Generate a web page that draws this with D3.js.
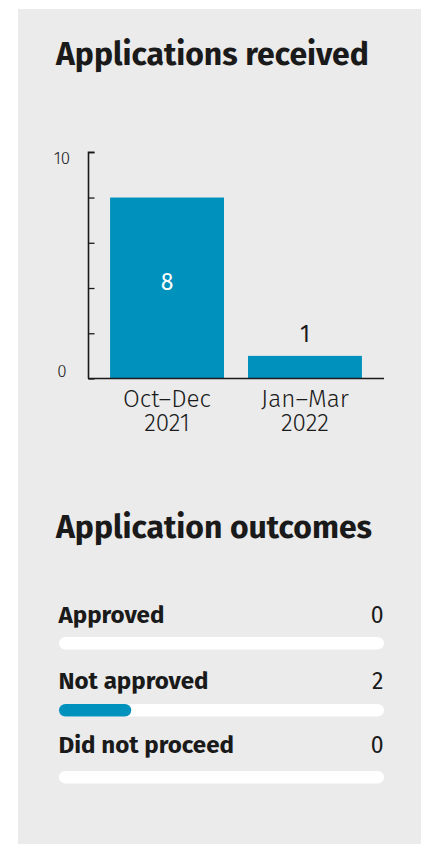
<!DOCTYPE html>
<html>
<head>
<meta charset="utf-8">
<script src="https://cdn.jsdelivr.net/npm/d3@7"></script>
<style>
  html, body { margin: 0; padding: 0; background: #ffffff; }
  svg { display: block; }
  text { font-family: "Fira Sans", Roboto, "Noto Sans", sans-serif; fill: #1a1a1a; }
</style>
</head>
<body>
<svg id="chart" width="427" height="844"></svg>
<script>
// ---- data ----
const titleTop = "Applications received";
const titleBottom = "Application outcomes";
const periods = ["Oct–Dec 2021", "Jan–Mar 2022"];
const applications = [8, 1];
const yTicks = [0, 2, 4, 6, 8, 10];
const yTickLabels = ["0", "", "", "", "", "10"];
const outcomeLabels = ["Approved", "Not approved", "Did not proceed"];
const outcomeValues = [0, 2, 0];

// ---- styles ----
const BLUE = "#0091bc";
const PANEL = "#ebebeb";

const svg = d3.select("#chart");
svg.append("rect").attr("x", 18).attr("y", 9).attr("width", 403).attr("height", 835).attr("fill", PANEL);

function fitWidth(sel, target, start) {
  let fs = start;
  sel.style("font-size", fs + "px");
  const w = sel.node().getComputedTextLength();
  fs = fs * target / w;
  sel.style("font-size", fs + "px");
  return fs;
}

// ---- titles ----
const t1 = svg.append("text").attr("x", 56).attr("y", 65).attr("font-weight", 700).text(titleTop);
fitWidth(t1, 313, 30);
const t2 = svg.append("text").attr("x", 56).attr("y", 538).attr("font-weight", 700).text(titleBottom);
fitWidth(t2, 316, 30);

// ---- bar chart ----
const y = d3.scaleLinear().domain([0, 10]).range([378.5, 152.3]);
const x = d3.scaleBand().domain(periods).range([88, 384]).paddingInner(0.174).paddingOuter(0.16);

svg.selectAll("rect.bar").data(periods).join("rect")
  .attr("class", "bar")
  .attr("x", d => x(d))
  .attr("width", x.bandwidth())
  .attr("y", (d, i) => y(applications[i]))
  .attr("height", (d, i) => y(0) - y(applications[i]))
  .attr("fill", BLUE);

// y axis (ticks pointing inward)
const yAxis = svg.append("g").attr("transform", "translate(88.5,0)")
  .call(d3.axisRight(y).tickValues(yTicks).tickSize(6).tickFormat(""));
yAxis.select(".domain").attr("d", `M6,${y(10)}H0V${y(0)}`).attr("stroke", "#1a1a1a").attr("stroke-width", 1.6);
yAxis.selectAll(".tick line").attr("stroke", "#1a1a1a").attr("stroke-width", 1.3);

// x axis baseline
const xAxis = svg.append("g").attr("transform", `translate(0,${y(0)})`)
  .call(d3.axisBottom(x).tickSize(0).tickFormat(""));
xAxis.select(".domain").attr("d", `M88,0H384`).attr("stroke", "#1a1a1a").attr("stroke-width", 1.6);

// y tick labels (0 sits above the baseline, 10 hangs below the top tick)
yTicks.forEach((v, i) => {
  if (!yTickLabels[i]) return;
  svg.append("text")
    .attr("x", 62).attr("y", v === 0 ? y(v) - 1.5 : y(v) + 11.5)
    .attr("text-anchor", "middle")
    .style("font-size", "17px").style("font-weight", 300)
    .text(yTickLabels[i]);
});

// category labels (two lines)
let catSize = null;
periods.forEach(p => {
  const parts = p.split(" ");
  const cx = x(p) + x.bandwidth() / 2;
  const a = svg.append("text").attr("text-anchor", "middle").attr("x", cx).attr("y", 407)
    .style("font-weight", 300).text(parts[0]);
  if (catSize === null) catSize = fitWidth(a, 88, 22);
  else a.style("font-size", catSize + "px");
  svg.append("text").attr("text-anchor", "middle").attr("x", cx).attr("y", 430.5)
    .style("font-weight", 300).style("font-size", catSize + "px").text(parts[1]);
});

// value labels
periods.forEach((p, i) => {
  const v = applications[i];
  const cx = x(p) + x.bandwidth() / 2;
  const inside = (y(0) - y(v)) > 40;
  svg.append("text")
    .attr("x", cx)
    .attr("y", inside ? (y(v) + y(0)) / 2 + 2 : y(v) - 14)
    .attr("text-anchor", "middle")
    .style("font-size", "23px").style("font-weight", 400)
    .style("fill", inside ? "#ffffff" : "#1a1a1a")
    .text(v);
});

// ---- outcomes ----
const total = d3.sum(applications);
const ox = d3.scaleLinear().domain([0, total]).range([59, 384]);
const rowLabelY = [623, 689, 753];
const rowTrackY = [637, 704, 771];
const trackH = 12.5;

let labelSize = null;
outcomeLabels.forEach((lab, i) => {
  const t = svg.append("text").attr("x", 58.5).attr("y", rowLabelY[i]).attr("font-weight", 700).text(lab);
  if (labelSize === null) labelSize = fitWidth(t, 106, 22);
  else t.style("font-size", labelSize + "px");
  svg.append("text").attr("x", 383.5).attr("y", rowLabelY[i]).attr("text-anchor", "end")
    .style("font-size", "23px").style("font-weight", 400).text(outcomeValues[i]);
  svg.append("rect").attr("x", ox(0)).attr("y", rowTrackY[i])
    .attr("width", ox(total) - ox(0)).attr("height", trackH)
    .attr("rx", trackH / 2).attr("fill", "#ffffff");
  if (outcomeValues[i] > 0) {
    svg.append("rect").attr("x", ox(0)).attr("y", rowTrackY[i])
      .attr("width", ox(outcomeValues[i]) - ox(0)).attr("height", trackH)
      .attr("rx", trackH / 2).attr("fill", BLUE);
  }
});
</script>
</body>
</html>
